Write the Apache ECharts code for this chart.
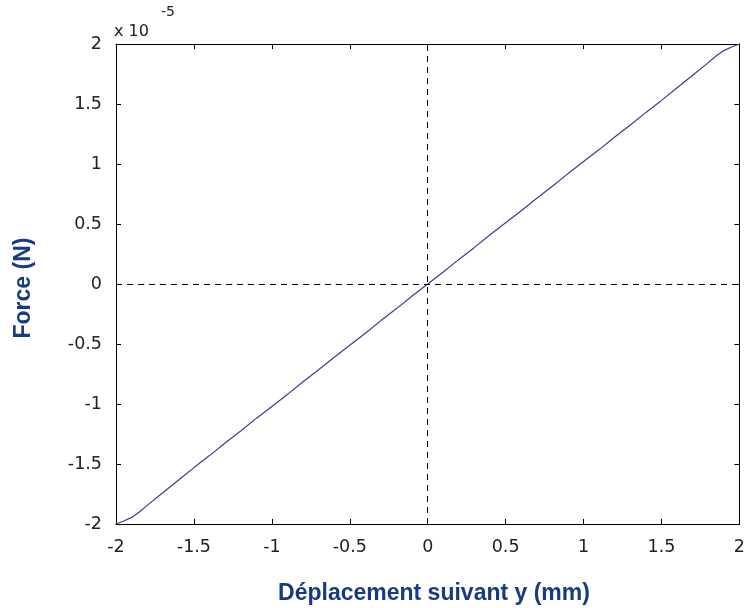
<!DOCTYPE html>
<html><head><meta charset="utf-8">
<script src="https://cdn.jsdelivr.net/npm/echarts@6/dist/echarts.min.js"></script>
<style>html,body{margin:0;padding:0;background:#fff}#c{width:748px;height:608px}</style>
</head><body><div id="c"></div>
<script>
// Displacement (mm)
const displacement = [-2,-1.95,-1.9,-1.85,-1.8,-1.7,-1.6,-1.5,-1.4,-1.3,-1.2,-1.1,-1,-0.9,-0.8,-0.7,-0.6,-0.5,-0.4,-0.3,-0.2,-0.1,0,0.1,0.2,0.3,0.4,0.5,0.6,0.7,0.8,0.9,1,1.1,1.2,1.3,1.4,1.5,1.6,1.7,1.8,1.85,1.9,1.95,2];
// Force (x 1e-5 N)
const force = [-2,-1.975,-1.945,-1.9,-1.845,-1.74,-1.635,-1.53,-1.43,-1.325,-1.225,-1.12,-1.02,-0.92,-0.815,-0.715,-0.61,-0.51,-0.41,-0.305,-0.205,-0.1,0,0.1,0.205,0.305,0.41,0.51,0.61,0.715,0.815,0.92,1.02,1.12,1.225,1.325,1.43,1.53,1.635,1.74,1.845,1.9,1.945,1.975,2];
const xTicks = [-2,-1.5,-1,-0.5,0,0.5,1,1.5,2];
const yTicks = [-2,-1.5,-1,-0.5,0,0.5,1,1.5,2];
const xTitle = 'Déplacement suivant y (mm)';
const yTitle = 'Force (N)';
const multiplier = 'x 10';
const exponent = '-5';

const fmt = v => String(v);
const chart = echarts.init(document.getElementById('c'), null, {renderer:'canvas'});
const lab = {color:'#222', fontFamily:'DejaVu Sans', fontSize:17.5};
const tick = {show:true, inside:true, length:5, lineStyle:{color:'#000'}};
const axLine = {show:true, onZero:false, lineStyle:{color:'#000', width:1}};
function xa(pos, showLabel){
  return {type:'value', position:pos, min:-2, max:2, interval:0.5,
    axisLine:axLine, axisTick:tick, splitLine:{show:false},
    axisLabel:Object.assign({show:showLabel, margin:14, formatter:fmt}, lab)};
}
function ya(pos, showLabel){
  return {type:'value', position:pos, min:-2, max:2, interval:0.5,
    axisLine:axLine, axisTick:tick, splitLine:{show:false},
    axisLabel:Object.assign({show:showLabel, margin:14, formatter:fmt}, lab)};
}
chart.setOption({
  animation:false,
  backgroundColor:'#fff',
  grid:{left:116, right:6, top:44, bottom:84, containLabel:false},
  xAxis:[xa('bottom', true), xa('top', false)],
  yAxis:[ya('left', true), ya('right', false)],
  graphic:[
    {type:'text', x:434, y:594, style:{text:xTitle, font:'bold 23px "Liberation Sans"', fill:'#173a84', align:'center', verticalAlign:'middle'}},
    {type:'text', x:24, y:288, rotation:Math.PI/2, style:{text:yTitle, font:'bold 23px "Liberation Sans"', fill:'#173a84', align:'center', verticalAlign:'middle'}},
    {type:'text', x:114, y:24, style:{text:multiplier, font:'16px "DejaVu Sans"', fill:'#222'}},
    {type:'text', x:161, y:5, style:{text:exponent, font:'14px "DejaVu Sans"', fill:'#222'}}
  ],
  series:[{
    type:'line', xAxisIndex:0, yAxisIndex:0,
    data:displacement.map((x,i)=>[x, force[i]]),
    showSymbol:false, symbol:'none', smooth:false,
    lineStyle:{color:'#3b3b9c', width:1.2},
    markLine:{silent:true, symbol:'none', label:{show:false},
      lineStyle:{color:'#000', type:[6,5], width:1},
      data:[{xAxis:0},{yAxis:0}]}
  }]
});
</script></body></html>
